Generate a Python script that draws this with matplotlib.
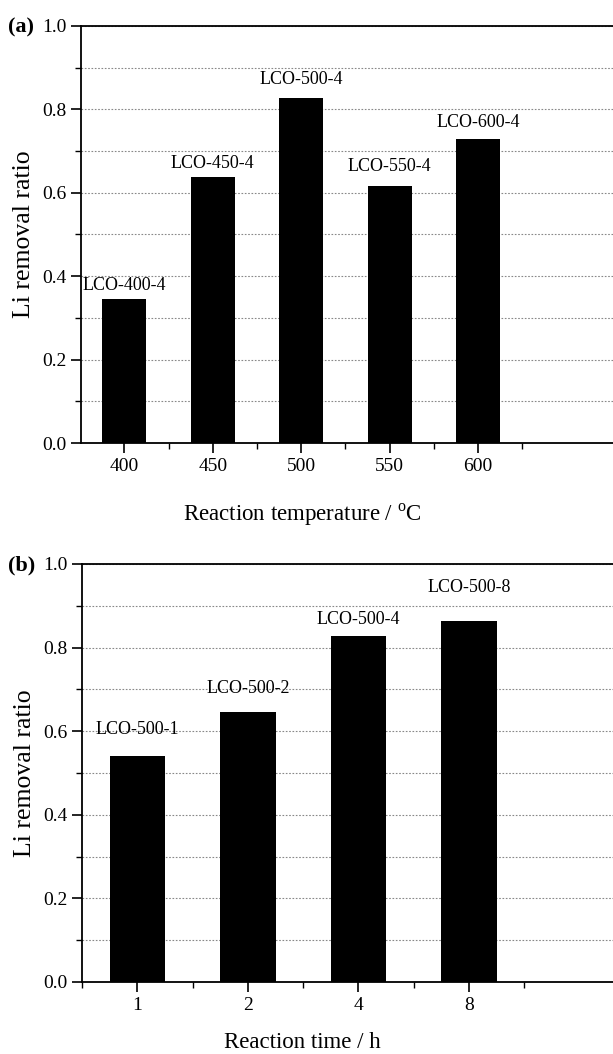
import matplotlib
matplotlib.use("Agg")
import matplotlib.pyplot as plt
from matplotlib.ticker import MultipleLocator, FixedLocator

plt.rcParams['font.family'] = ['Liberation Serif', 'DejaVu Serif']
plt.rcParams['mathtext.fontset'] = 'custom'
plt.rcParams['mathtext.rm'] = 'Liberation Serif'

# panel (a): reaction temperature
temps = [400, 450, 500, 550, 600]
ratio_temp = [0.345, 0.637, 0.827, 0.616, 0.729]
names_temp = ['LCO-400-4', 'LCO-450-4', 'LCO-500-4', 'LCO-550-4', 'LCO-600-4']

# panel (b): reaction time
times = ['1', '2', '4', '8']
ratio_time = [0.541, 0.646, 0.828, 0.864]
names_time = ['LCO-500-1', 'LCO-500-2', 'LCO-500-4', 'LCO-500-8']

# label gap above bar tops (points)
gap_a = [4, 4, 7, 8, 6]
gap_b = [13, 11, 6, 18]

W, H = 613, 1054
fig = plt.figure(figsize=(W / 100, H / 100), dpi=100)


def frame(ax):
    ax.set_ylim(0, 1.0)
    ax.yaxis.set_major_locator(MultipleLocator(0.2))
    ax.yaxis.set_minor_locator(MultipleLocator(0.1))
    ax.yaxis.set_major_formatter(plt.FormatStrFormatter('%.1f'))
    ax.grid(True, which='both', axis='y', linestyle=(0, (1.5, 1.5)),
            color='#888888', linewidth=0.8)
    ax.set_axisbelow(True)
    ax.tick_params(which='major', direction='out', length=7, width=1.2,
                   labelsize=14)
    ax.tick_params(which='minor', direction='out', length=4, width=1.0)
    for s in ax.spines.values():
        s.set_linewidth(1.3)
    ax.set_ylabel('Li removal ratio', fontsize=18.5, labelpad=5)


# (a)
ax1 = fig.add_axes([81 / W, 1 - 443 / H, 544 / W, 417 / H])
ax1.bar(temps, ratio_temp, width=25, color='black', zorder=3)
for x, v, n, g in zip(temps, ratio_temp, names_temp, gap_a):
    ax1.annotate(n, (x, v), xytext=(0, g), textcoords='offset points',
                 ha='center', va='bottom', fontsize=13)
ax1.set_xlim(375.5, 683)
ax1.set_xticks(temps)
ax1.xaxis.set_minor_locator(FixedLocator([375, 425, 475, 525, 575, 625]))
frame(ax1)
ax1.set_xlabel('Reaction temperature / $^{\\mathrm{o}}$C', fontsize=16.5)
ax1.xaxis.set_label_coords((302 - 81) / 544, -0.14)
fig.text(8 / W, 1 - 27 / H, '(a)', fontsize=16, fontweight='bold',
         va='center', ha='left')

# (b)
ax2 = fig.add_axes([82 / W, 1 - 982 / H, 543 / W, 418 / H])
pos = list(range(len(times)))
ax2.bar(pos, ratio_time, width=0.5, color='black', zorder=3)
for x, v, n, g in zip(pos, ratio_time, names_time, gap_b):
    ax2.annotate(n, (x, v), xytext=(0, g), textcoords='offset points',
                 ha='center', va='bottom', fontsize=13)
ax2.set_xlim(-0.5, 4.41)
ax2.set_xticks(pos)
ax2.set_xticklabels(times)
ax2.xaxis.set_minor_locator(FixedLocator([-0.5, 0.5, 1.5, 2.5, 3.5]))
frame(ax2)
ax2.set_xlabel('Reaction time / h', fontsize=16.5)
ax2.xaxis.set_label_coords((302 - 82) / 543, -0.12)
fig.text(8 / W, 1 - 565 / H, '(b)', fontsize=16, fontweight='bold',
         va='center', ha='left')

fig.savefig('out.png', dpi=100)
